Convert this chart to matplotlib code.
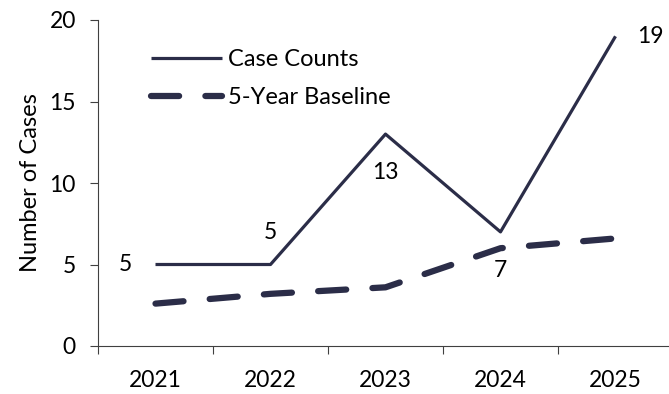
import numpy as np
import matplotlib
matplotlib.use('Agg')
import matplotlib.pyplot as plt

# Data
years = ['2021', '2022', '2023', '2024', '2025']
case_counts = [5, 5, 13, 7, 19]
baseline = [2.6, 3.2, 3.6, 6.0, 6.6]

plt.rcParams['font.family'] = ['Lato', 'DejaVu Sans']
navy = '#2b2d48'

fig = plt.figure(figsize=(6.69, 3.94), dpi=100)
ax = fig.add_axes([98 / 669, 48 / 394, 575 / 669, 326 / 394])

x = np.arange(len(years))
ax.plot(x, case_counts, color=navy, lw=2.3, label='Case Counts', solid_capstyle='butt')
ax.plot(x, baseline, color=navy, lw=4.5, ls=(0, (4.5, 4.2)), dash_capstyle='round',
        label='5-Year Baseline')

# value labels on case counts
offsets = [(-30, 0), (0, 32), (0, -38), (0, -39), (35, 0)]
for xi, yi, (dx, dy) in zip(x, case_counts, offsets):
    ax.annotate(str(yi), (xi, yi), xytext=(dx, dy), textcoords='offset pixels',
                ha='center', va='center', fontsize=16.5, color='black')

ax.set_xlim(-0.5, 4.5)
ax.set_ylim(0, 20)
ax.set_yticks([0, 5, 10, 15, 20])
ax.set_xticks(np.arange(-0.5, 5, 1))
ax.set_xticklabels([])
ax.set_xticks(x, minor=True)
ax.set_xticklabels(years, minor=True)
ax.tick_params(axis='x', which='major', length=6, color='#404040', direction='out')
ax.tick_params(axis='x', which='minor', length=0, labelsize=16.5, pad=17)
ax.tick_params(axis='y', length=6, color='#404040', labelsize=16.5, pad=10)
ax.spines['top'].set_visible(False)
ax.spines['right'].set_visible(False)
ax.spines['left'].set_color('#404040')
ax.spines['bottom'].set_color('#404040')
ax.set_ylabel('Number of Cases', fontsize=17, labelpad=6)

ax.legend(loc='upper left', bbox_to_anchor=(0.055, 0.975), frameon=False, fontsize=17,
          handlelength=3.0, handletextpad=0.25, labelspacing=0.7)

fig.savefig('out.png', dpi=100)
